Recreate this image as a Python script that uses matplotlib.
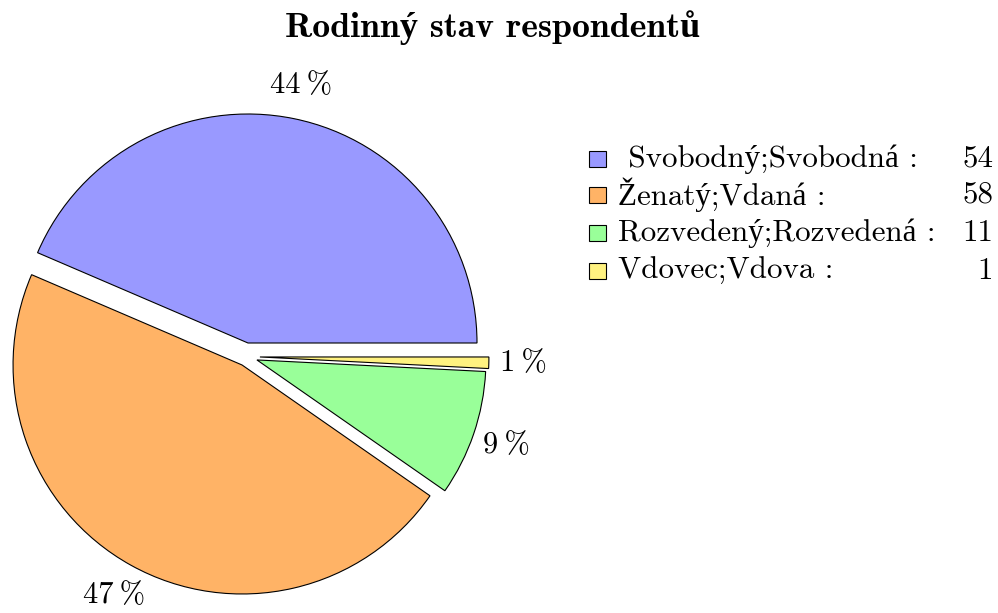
import numpy as np
import matplotlib.pyplot as plt
from matplotlib.patches import Rectangle

plt.rcParams['font.family'] = ['cmr10', 'Liberation Serif']
plt.rcParams['axes.unicode_minus'] = False

title = 'Rodinný stav respondentů'
labels = [' Svobodný;Svobodná :', 'Ženatý;Vdaná :', 'Rozvedený;Rozvedená :', 'Vdovec;Vdova :']
counts = np.array([54, 58, 11, 1])
colors = ['#9999ff', '#ffb366', '#99ff99', '#fff280']
# slice shifts (in radius units), as drawn in the original
shift_x = [0.0, -0.026, 0.039, 0.052]
shift_y = [0.0, -0.096, -0.074, -0.061]

W, H = 998, 613
R = 229.0          # pie radius in pixels
cx, cy = 248, 343  # pie center in pixels (from top-left)

fig = plt.figure(figsize=(W / 100, H / 100), dpi=100)
ax = fig.add_axes([0, 0, 1, 1])

wedges, _ = ax.pie(counts, colors=colors, startangle=0, counterclock=True,
                   radius=1, wedgeprops=dict(edgecolor='black', linewidth=0.8))
pct = counts / counts.sum() * 100
for w, dx, dy, p in zip(wedges, shift_x, shift_y, pct):
    w.set_center((dx, dy))
    mid = np.deg2rad((w.theta1 + w.theta2) / 2)
    ax.text(dx + 1.15 * np.cos(mid), dy + 1.15 * np.sin(mid),
            '%d\u2009%%' % round(p), ha='center', va='center', fontsize=22)

ax.set_xlim(-cx / R, (W - cx) / R)
ax.set_ylim(-(H - cy) / R, cy / R)
ax.set_aspect('auto')
ax.axis('off')

fig.text(493 / W, 1 - 28 / H, title, ha='center', va='center',
         fontsize=25.8, family=['cmb10', 'Liberation Serif'], fontweight='bold')

# legend
rows = [159, 195, 233, 271]
for lab, n, col, y in zip(labels, counts, colors, rows):
    fig.patches.append(Rectangle((589 / W, 1 - (y + 8) / H), 17 / W, 16 / H,
                                 transform=fig.transFigure, facecolor=col,
                                 edgecolor='black', linewidth=0.8))
    fig.text(618 / W, 1 - y / H, lab, ha='left', va='center', fontsize=22.3)
    fig.text(993 / W, 1 - y / H, str(n), ha='right', va='center', fontsize=22.3)

fig.savefig('out.png', dpi=100)
